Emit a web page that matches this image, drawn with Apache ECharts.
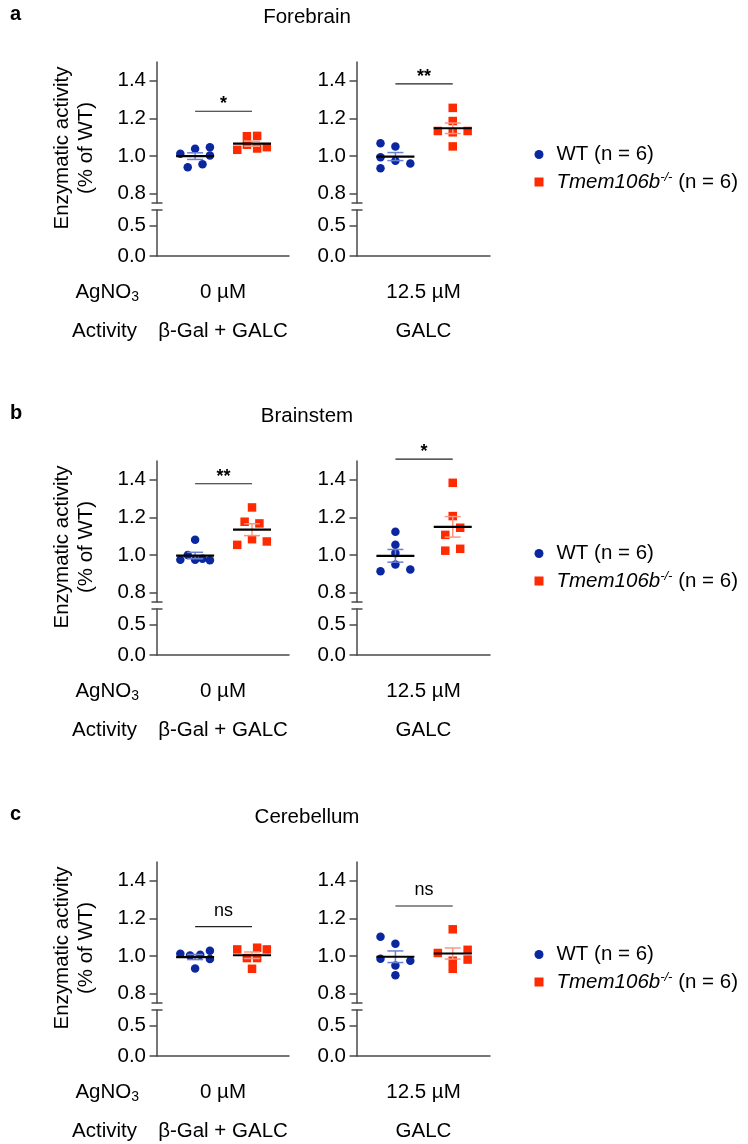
<!DOCTYPE html>
<html><head><meta charset="utf-8">
<script src="https://cdn.jsdelivr.net/npm/echarts@6/dist/echarts.min.js"></script>
<style>html,body{margin:0;padding:0;background:#fff}#c{width:748px;height:1144px}</style>
</head><body><div id="c"></div>
<script>
// ---------------- DATA ----------------
const panelLetters = ['a', 'b', 'c'];
const regions = ['Forebrain', 'Brainstem', 'Cerebellum'];
const conditions = ['0 µM', '12.5 µM'];
const activities = ['β-Gal + GALC', 'GALC'];
const yTicksUpper = [0.8, 1.0, 1.2, 1.4];
const yTicksLower = [0.0, 0.5];
const groupNames = ['WT', 'KO'];

// WT values [region][condition]
const wtValues = [
  [[1.012, 1.038, 1.047, 1.003, 0.940, 0.956], [1.068, 1.051, 0.993, 0.975, 0.960, 0.935]],
  [[1.081, 1.000, 0.975, 0.975, 0.980, 0.972], [1.124, 1.054, 1.010, 0.949, 0.914, 0.923]],
  [[1.012, 1.003, 1.007, 1.028, 0.984, 0.933], [1.103, 1.065, 0.986, 0.975, 0.949, 0.898]]
];
// horizontal spread of the WT points (category units)
const wtSpread = [
  [[-0.26, 0, 0.26, 0.26, -0.13, 0.13], [-0.26, 0, -0.26, 0, 0.26, -0.26]],
  [[0, -0.13, -0.26, 0, 0.13, 0.26], [0, 0, 0, 0, -0.26, 0.26]],
  [[-0.26, -0.09, 0.09, 0.26, 0.26, 0], [-0.26, 0, -0.26, 0.26, 0, 0]]
];
// Tmem106b-/- values [region][condition]
const koValues = [
  [[1.033, 1.105, 1.107, 1.060, 1.040, 1.047], [1.256, 1.186, 1.133, 1.126, 1.133, 1.051]],
  [[1.253, 1.177, 1.168, 1.054, 1.084, 1.072], [1.384, 1.207, 1.145, 1.107, 1.023, 1.033]],
  [[1.035, 1.044, 1.035, 0.989, 0.989, 0.932], [1.142, 1.016, 1.033, 0.981, 0.975, 0.932]]
];
const koSpread = [
  [[-0.26, -0.09, 0.09, -0.09, 0.09, 0.26], [0, 0, -0.26, 0, 0.26, 0]],
  [[0, -0.13, 0.13, -0.26, 0, 0.26], [0, 0, 0.13, -0.13, -0.13, 0.13]],
  [[-0.26, 0.09, 0.26, -0.09, 0.09, 0], [0, -0.26, 0.26, 0.26, 0, 0]]
];
// significance annotations [region][condition]
const sigLabels = [['*', '**'], ['**', '*'], ['ns', 'ns']];
const sigHeights = [[1.238, 1.384], [1.379, 1.51], [1.156, 1.266]];

// ---------------- STYLE / LAYOUT ----------------
const FONT = '"Liberation Sans", Arial, Helvetica, sans-serif';
const FS = 20.5;
const WT_COLOR = '#0a27a0';
const KO_COLOR = '#ff2a00';
const ERR_COLORS = ['#6a7fd6', '#ff9580'];
const AXIS_COLOR = '#4a4a4a';
const PANEL_Y = [0, 399, 800];
const PLOT_X = [157, 357];
const PLOT_W = [132, 133];
const X_MIN = 0.33, X_MAX = 2.65;
const Y_BREAK = 0.75;

function mean(a) { return a.reduce((s, v) => s + v, 0) / a.length; }
function sem(a) {
  const m = mean(a);
  const sd = Math.sqrt(a.reduce((s, v) => s + (v - m) * (v - m), 0) / (a.length - 1));
  return sd / Math.sqrt(a.length);
}

const grid = [], xAxis = [], yAxis = [], series = [], legend = [], graphic = [];

function yAxisCfg(gi, min, max, ticks) {
  return {
    type: 'value', gridIndex: gi, min: min, max: max,
    axisLine: { show: true, lineStyle: { color: AXIS_COLOR, width: 1.5 } },
    axisTick: { show: true, length: 7.5, customValues: ticks, lineStyle: { color: AXIS_COLOR, width: 1.5 } },
    axisLabel: { customValues: ticks, formatter: v => v.toFixed(1), fontFamily: FONT, fontSize: FS, color: '#000', margin: 11 },
    splitLine: { show: false }
  };
}

function breakSeries(gi) {
  return {
    type: 'custom', xAxisIndex: gi, yAxisIndex: gi, clip: false, silent: true, z: 5,
    data: [[X_MIN, Y_BREAK]],
    renderItem: function (params, api) {
      const p = api.coord([api.value(0), api.value(1)]);
      return { type: 'line', shape: { x1: p[0] - 5.5, y1: p[1], x2: p[0] + 5.5, y2: p[1] },
        style: { stroke: AXIS_COLOR, lineWidth: 1.5 } };
    }
  };
}

for (let p = 0; p < 3; p++) {
  const P = PANEL_Y[p];
  for (let k = 0; k < 2; k++) {
    // upper segment
    const gU = grid.length;
    grid.push({ left: PLOT_X[k], top: 62 + P, width: PLOT_W[k], height: 141 });
    xAxis.push({ type: 'value', gridIndex: gU, min: X_MIN, max: X_MAX, show: false });
    yAxis.push(yAxisCfg(gU, Y_BREAK, 1.5, yTicksUpper));
    // lower segment
    const gL = grid.length;
    grid.push({ left: PLOT_X[k], top: 210 + P, width: PLOT_W[k], height: 46 });
    xAxis.push({ type: 'value', gridIndex: gL, min: X_MIN, max: X_MAX,
      axisLine: { show: true, onZero: false, lineStyle: { color: AXIS_COLOR, width: 1.5 } },
      axisTick: { show: false }, axisLabel: { show: false }, splitLine: { show: false } });
    yAxis.push(yAxisCfg(gL, 0, Y_BREAK, yTicksLower));

    const wt = wtValues[p][k], ko = koValues[p][k];
    series.push({
      name: 'WT', type: 'scatter', xAxisIndex: gU, yAxisIndex: gU, symbol: 'circle', symbolSize: 8.5,
      itemStyle: { color: WT_COLOR, opacity: 1 }, z: 2, silent: true,
      data: wt.map((v, i) => [1 + wtSpread[p][k][i], v])
    });
    series.push({
      name: 'KO', type: 'scatter', xAxisIndex: gU, yAxisIndex: gU, symbol: 'rect', symbolSize: 8.5,
      itemStyle: { color: KO_COLOR, opacity: 1 }, z: 2, silent: true,
      data: ko.map((v, i) => [2 + koSpread[p][k][i], v])
    });
    // mean ± SEM
    series.push({
      type: 'custom', xAxisIndex: gU, yAxisIndex: gU, clip: false, silent: true, z: 3,
      data: [[1, mean(wt), sem(wt), 0], [2, mean(ko), sem(ko), 1]],
      renderItem: function (params, api) {
        const x = api.value(0), m = api.value(1), s = api.value(2), gi = api.value(3);
        const c = api.coord([x, m]);
        const hi = api.coord([x, m + s]);
        const lo = api.coord([x, m - s]);
        const col = ERR_COLORS[gi];
        const st = { stroke: col, lineWidth: 1.5 };
        return { type: 'group', children: [
          { type: 'line', shape: { x1: c[0], y1: hi[1], x2: c[0], y2: lo[1] }, style: st },
          { type: 'line', shape: { x1: c[0] - 8, y1: hi[1], x2: c[0] + 8, y2: hi[1] }, style: st },
          { type: 'line', shape: { x1: c[0] - 8, y1: lo[1], x2: c[0] + 8, y2: lo[1] }, style: st },
          { type: 'line', shape: { x1: c[0] - 19, y1: c[1], x2: c[0] + 19, y2: c[1] }, style: { stroke: '#000', lineWidth: 2.2 } }
        ] };
      }
    });
    // significance bar
    series.push({
      type: 'custom', xAxisIndex: gU, yAxisIndex: gU, clip: false, silent: true, z: 4,
      data: [[1, 2, sigHeights[p][k], sigLabels[p][k]]],
      renderItem: function (params, api) {
        const a = api.coord([api.value(0), api.value(2)]);
        const b = api.coord([api.value(1), api.value(2)]);
        const lab = sigLabels[p][k];
        const isStar = lab.indexOf('*') >= 0;
        return { type: 'group', children: [
          { type: 'line', shape: { x1: a[0], y1: a[1], x2: b[0], y2: b[1] }, style: { stroke: '#222', lineWidth: 1.2 } },
          { type: 'text', x: (a[0] + b[0]) / 2, y: a[1] + (isStar ? -7 : -16),
            style: { text: lab, fill: '#000', font: (isStar ? 'bold 18px ' : '18px ') + FONT,
              align: 'center', verticalAlign: 'middle', textAlign: 'center', textVerticalAlign: 'middle' } }
        ] };
      }
    });
    series.push(breakSeries(gU));
    series.push(breakSeries(gL));

    // condition / activity labels
    const cx = PLOT_X[k] + PLOT_W[k] / 2;
    graphic.push({ type: 'text', x: cx, y: 292 + P, silent: true,
      style: { text: conditions[k], font: FS + 'px ' + FONT, fill: '#000', align: 'center', verticalAlign: 'middle', textAlign: 'center', textVerticalAlign: 'middle' } });
    graphic.push({ type: 'text', x: cx, y: 331 + P, silent: true,
      style: { text: activities[k], font: FS + 'px ' + FONT, fill: '#000', align: 'center', verticalAlign: 'middle', textAlign: 'center', textVerticalAlign: 'middle' } });
  }

  // panel letter, title, y name, row labels
  graphic.push({ type: 'text', x: 10, y: 14 + P, silent: true,
    style: { text: panelLetters[p], font: 'bold 20px ' + FONT, fill: '#000', align: 'left', verticalAlign: 'middle', textAlign: 'left', textVerticalAlign: 'middle' } });
  graphic.push({ type: 'text', x: 307, y: 17 + P, silent: true,
    style: { text: regions[p], font: FS + 'px ' + FONT, fill: '#000', align: 'center', verticalAlign: 'middle', textAlign: 'center', textVerticalAlign: 'middle' } });
  graphic.push({ type: 'text', x: 74, y: 148 + P, rotation: Math.PI / 2, silent: true,
    style: { text: 'Enzymatic activity\n(% of WT)', font: FS + 'px ' + FONT, lineHeight: 24, fill: '#000', align: 'center', verticalAlign: 'middle', textAlign: 'center', textVerticalAlign: 'middle' } });
  graphic.push({ type: 'text', x: 139, y: 292 + P, silent: true,
    style: { text: '{m|AgNO}{s|3}', fill: '#000', align: 'right', verticalAlign: 'middle', textAlign: 'right', textVerticalAlign: 'middle',
      rich: { m: { font: FS + 'px ' + FONT, lineHeight: 24, fill: '#000' },
              s: { font: '14px ' + FONT, lineHeight: 12, verticalAlign: 'bottom', fill: '#000' } } } });
  graphic.push({ type: 'text', x: 137, y: 331 + P, silent: true,
    style: { text: 'Activity', font: FS + 'px ' + FONT, fill: '#000', align: 'right', verticalAlign: 'middle', textAlign: 'right', textVerticalAlign: 'middle' } });

  legend.push({
    orient: 'vertical', left: 529.5, top: 139 + P, itemWidth: 9, itemHeight: 9, itemGap: 6,
    selectedMode: false, data: groupNames,
    formatter: function (name) {
      return name === 'WT' ? '{r|WT (n = 6)}' : '{i|Tmem106b}{s|-/-}{r| (n = 6)}';
    },
    textStyle: { fontFamily: FONT, fontSize: 20.5, color: '#000', padding: [0, 0, 0, 8],
      rich: {
        r: { fontFamily: FONT, fontSize: 20.5, lineHeight: 22, color: '#000' },
        i: { fontFamily: FONT, fontSize: 20.5, lineHeight: 22, fontStyle: 'italic', color: '#000' },
        s: { fontFamily: FONT, fontSize: 13, lineHeight: 13, fontStyle: 'italic', verticalAlign: 'top', color: '#000' }
      } }
  });
}

const chart = echarts.init(document.getElementById('c'), null, { renderer: 'canvas' });
chart.setOption({
  backgroundColor: '#fff',
  animation: false,
  grid: grid, xAxis: xAxis, yAxis: yAxis, series: series, legend: legend, graphic: graphic
});
</script>
</body></html>
